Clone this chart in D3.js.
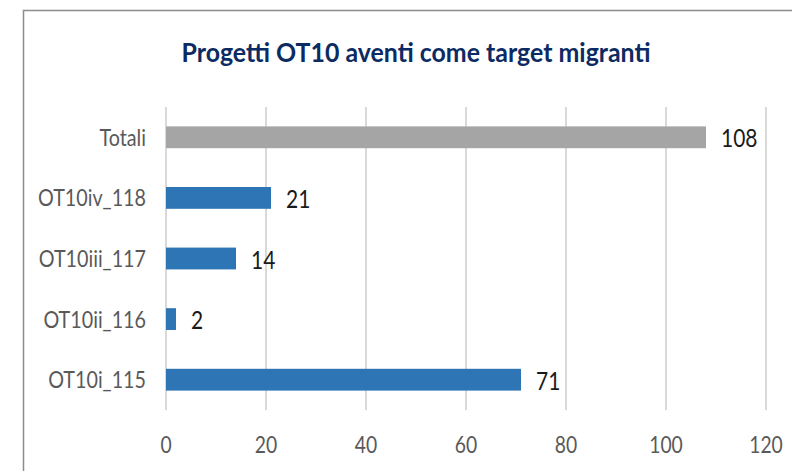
<!DOCTYPE html>
<html lang="it">
<head>
  <meta charset="UTF-8">
  <title>Progetti OT10 aventi come target migranti</title>
  <script src="https://cdn.jsdelivr.net/npm/d3@7"></script>
  <style>
    body { margin: 0; background: #fff; }
    text { font-family: Lato, "Open Sans", sans-serif; }
    .chart-title { font-size: 26.5px; font-weight: bold; fill: #0d2b63; }
    .cat-label { font-size: 23.5px; fill: #595959; }
    .tick-label { font-size: 23px; fill: #595959; }
    .value-label { font-size: 25px; fill: #1a1a1a; }
  </style>
</head>
<body>
  <div id="container"></div>
  <script>
    // Data
    const categories = ["Totali", "OT10iv_118", "OT10iii_117", "OT10ii_116", "OT10i_115"];
    const values = [108, 21, 14, 2, 71];
    const barColors = ["#a5a5a5", "#2e75b6", "#2e75b6", "#2e75b6", "#2e75b6"];
    const xTicks = [0, 20, 40, 60, 80, 100, 120];

    const width = 792;
    const height = 471;
    const sx = 0.84; // text is squeezed horizontally in the reference

    const svg = d3.select("#container")
      .append("svg")
      .attr("width", width)
      .attr("height", height);

    // chart frame (top and left edges visible)
    svg.append("path")
      .attr("d", `M23.5,${height} L23.5,10.5 L${width},10.5`)
      .attr("fill", "none")
      .attr("stroke", "#8c8c8c")
      .attr("stroke-width", 1.5);

    // Scales
    const x = d3.scaleLinear()
      .domain([0, 120])
      .range([166, 766]);

    const y = d3.scaleBand()
      .domain(categories)
      .range([107, 410])
      .padding(0);

    const barH = y.step() * 0.36;

    // Gridlines
    svg.selectAll(".grid")
      .data(xTicks)
      .enter()
      .append("line")
      .attr("class", "grid")
      .attr("x1", d => x(d))
      .attr("x2", d => x(d))
      .attr("y1", y.range()[0])
      .attr("y2", y.range()[1])
      .attr("stroke", "#d9d9d9")
      .attr("stroke-width", 2);

    // Bars
    svg.selectAll(".bar")
      .data(categories)
      .enter()
      .append("rect")
      .attr("class", "bar")
      .attr("x", x(0))
      .attr("y", d => y(d) + (y.step() - barH) / 2)
      .attr("width", (d, i) => x(values[i]) - x(0))
      .attr("height", barH)
      .attr("fill", (d, i) => barColors[i]);

    // Category labels
    svg.selectAll(".cat-label")
      .data(categories)
      .enter()
      .append("text")
      .attr("class", "cat-label")
      .attr("text-anchor", "end")
      .attr("transform", d => `translate(146, ${y(d) + y.step() / 2 + 8.5}) scale(${sx},1)`)
      .text(d => d);

    // Value labels
    svg.selectAll(".value-label")
      .data(categories)
      .enter()
      .append("text")
      .attr("class", "value-label")
      .attr("transform", (d, i) => `translate(${x(values[i]) + 15}, ${y(d) + y.step() / 2 + 10}) scale(${sx},1)`)
      .text((d, i) => values[i]);

    // X tick labels
    svg.selectAll(".tick-label")
      .data(xTicks)
      .enter()
      .append("text")
      .attr("class", "tick-label")
      .attr("text-anchor", "middle")
      .attr("transform", d => `translate(${x(d)}, 453) scale(${sx},1)`)
      .text(d => d);

    // Title
    svg.append("text")
      .attr("class", "chart-title")
      .attr("text-anchor", "middle")
      .attr("transform", "translate(416, 62) scale(0.94,1)")
      .text("Progetti OT10 aventi come target migranti");
  </script>
</body>
</html>
